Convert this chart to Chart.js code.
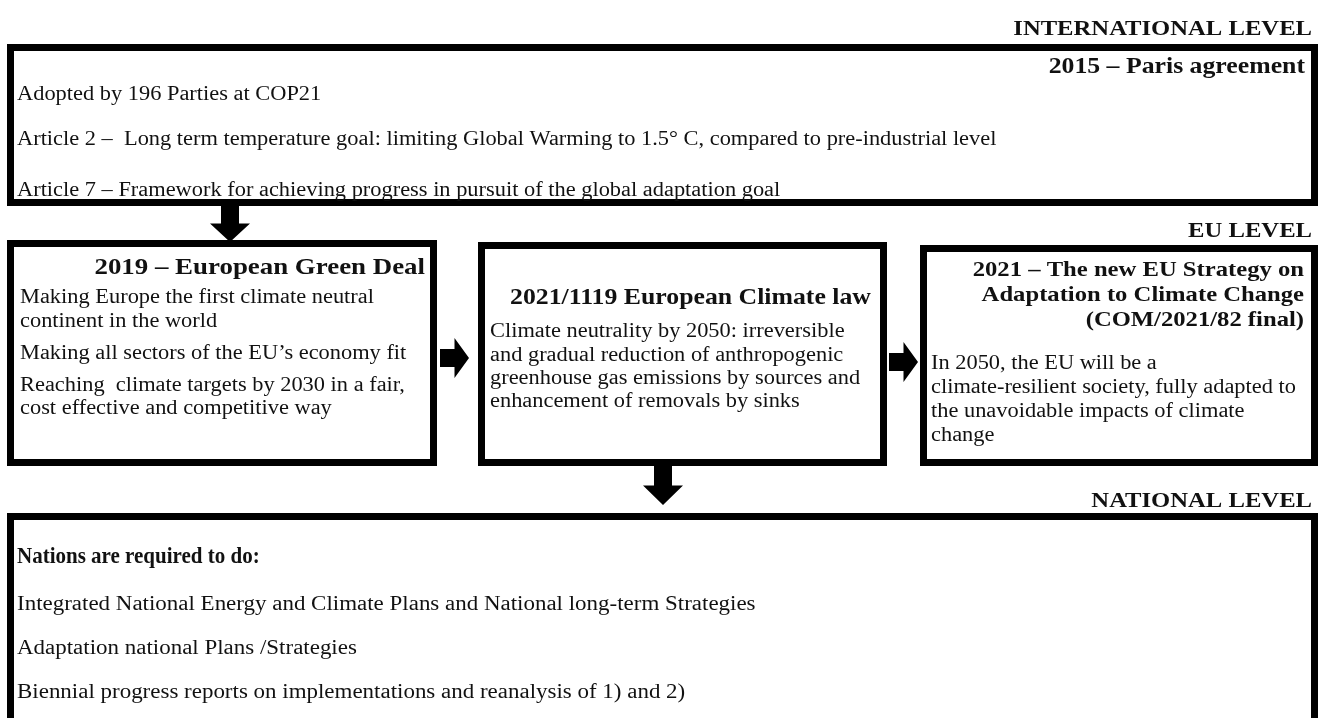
<!DOCTYPE html>
<html>
<head>
<meta charset="utf-8">
<script src="https://cdn.jsdelivr.net/npm/chart.js@4/dist/chart.umd.min.js"></script>
<style>
  html, body { margin: 0; padding: 0; background: #fff; }
  #wrap { width: 1323px; height: 718px; }
</style>
</head>
<body>
<div id="wrap"><canvas id="chart"></canvas></div>
<script>
// text content of the diagram
const levelLabels = ["INTERNATIONAL LEVEL", "EU LEVEL", "NATIONAL LEVEL"];
const parisTitle = ["2015 – Paris agreement"];
const parisItems = [
  "Adopted by 196 Parties at COP21",
  "Article 2 –  Long term temperature goal: limiting Global Warming to 1.5° C, compared to pre-industrial level",
  "Article 7 – Framework for achieving progress in pursuit of the global adaptation goal"
];
const greenDealTitle = ["2019 – European Green Deal"];
const greenDealItems = [
  "Making Europe the first climate neutral",
  "continent in the world",
  "Making all sectors of the EU’s economy fit",
  "Reaching  climate targets by 2030 in a fair,",
  "cost effective and competitive way"
];
const climateLawTitle = ["2021/1119 European Climate law"];
const climateLawItems = [
  "Climate neutrality by 2050: irreversible",
  "and gradual reduction of anthropogenic",
  "greenhouse gas emissions by sources and",
  "enhancement of removals by sinks"
];
const strategyTitle = [
  "2021 – The new EU Strategy on",
  "Adaptation to Climate Change",
  "(COM/2021/82 final)"
];
const strategyItems = [
  "In 2050, the EU will be a",
  "climate-resilient society, fully adapted to",
  "the unavoidable impacts of climate",
  "change"
];
const nationalTitle = ["Nations are required to do:"];
const nationalItems = [
  "Integrated National Energy and Climate Plans and National long-term Strategies",
  "Adaptation national Plans /Strategies",
  "Biennial progress reports on implementations and reanalysis of 1) and 2)"
];

// layout (page units, mapped through the chart scales)
const FONT = '"Liberation Serif", "DejaVu Serif", serif';
const STRETCH = 1.12;
const BORDER = 7;

const levelPos = [{x: 1312, y: 29}, {x: 1312, y: 231}, {x: 1312, y: 501}];

const boxes = [
  {x0: 7, y0: 44, x1: 1318, y1: 206,
   title: parisTitle, tAlign: 'right', tx: 1305, ty: [67], tSize: 23, tStretch: STRETCH,
   items: parisItems, ix: 17, iy: [95, 140, 191], iSize: 20},
  {x0: 7, y0: 240, x1: 437, y1: 466,
   title: greenDealTitle, tAlign: 'right', tx: 425, ty: [268], tSize: 24, tStretch: STRETCH,
   items: greenDealItems, ix: 20, iy: [298, 322, 354, 386, 409], iSize: 20},
  {x0: 478, y0: 242, x1: 887, y1: 466,
   title: climateLawTitle, tAlign: 'left', tx: 510, ty: [298], tSize: 23, tStretch: STRETCH,
   items: climateLawItems, ix: 490, iy: [332, 356, 379, 402], iSize: 20},
  {x0: 920, y0: 245, x1: 1318, y1: 466,
   title: strategyTitle, tAlign: 'right', tx: 1304, ty: [270, 295, 320], tSize: 22, tStretch: STRETCH,
   items: strategyItems, ix: 931, iy: [364, 388, 412, 436], iSize: 20},
  {x0: 7, y0: 513, x1: 1318, y1: 730,
   title: nationalTitle, tAlign: 'left', tx: 17, ty: [557], tSize: 24, tStretch: 0.875,
   items: nationalItems, ix: 17, iy: [605, 649, 693], iSize: 20.5}
];

// arrows: from (x0,y0) to (x1,y1)
const arrows = [
  {x0: 230, y0: 205, x1: 230, y1: 242},
  {x0: 440, y0: 358, x1: 469, y1: 358},
  {x0: 889, y0: 362, x1: 918, y1: 362},
  {x0: 663, y0: 466, x1: 663, y1: 505}
];

function drawText(chart, str, px, py, size, bold, align, stretch) {
  const {ctx} = chart;
  const xs = chart.scales.x, ys = chart.scales.y;
  const X = xs.getPixelForValue(px), Y = ys.getPixelForValue(py);
  ctx.save();
  ctx.font = (bold ? 'bold ' : '') + size + 'px ' + FONT;
  ctx.fillStyle = '#111';
  ctx.textBaseline = 'middle';
  ctx.textAlign = align;
  ctx.translate(X, Y);
  ctx.scale(stretch, 1);
  ctx.fillText(str, 0, 0);
  ctx.restore();
}

function drawArrow(chart, a) {
  const {ctx} = chart;
  const xs = chart.scales.x, ys = chart.scales.y;
  const X0 = xs.getPixelForValue(a.x0), Y0 = ys.getPixelForValue(a.y0);
  const X1 = xs.getPixelForValue(a.x1), Y1 = ys.getPixelForValue(a.y1);
  const len = Math.hypot(X1 - X0, Y1 - Y0);
  const ang = Math.atan2(Y1 - Y0, X1 - X0);
  const head = len * 0.5, sw = 9, hw = 20;
  ctx.save();
  ctx.translate(X0, Y0);
  ctx.rotate(ang);
  ctx.fillStyle = '#000';
  ctx.beginPath();
  ctx.moveTo(0, -sw);
  ctx.lineTo(len - head, -sw);
  ctx.lineTo(len - head, -hw);
  ctx.lineTo(len, 0);
  ctx.lineTo(len - head, hw);
  ctx.lineTo(len - head, sw);
  ctx.lineTo(0, sw);
  ctx.closePath();
  ctx.fill();
  ctx.restore();
}

const diagram = {
  id: 'diagram',
  afterDraw: (chart) => {
    const {ctx} = chart;
    const xs = chart.scales.x, ys = chart.scales.y;

    levelLabels.forEach((l, i) => {
      drawText(chart, l, levelPos[i].x, levelPos[i].y, 22, true, 'right', STRETCH);
    });

    boxes.forEach(b => {
      const X0 = xs.getPixelForValue(b.x0), Y0 = ys.getPixelForValue(b.y0);
      const X1 = xs.getPixelForValue(b.x1), Y1 = ys.getPixelForValue(b.y1);
      ctx.save();
      ctx.lineWidth = BORDER;
      ctx.strokeStyle = '#000';
      ctx.strokeRect(X0 + BORDER / 2, Y0 + BORDER / 2, X1 - X0 - BORDER, Y1 - Y0 - BORDER);
      ctx.restore();
      b.title.forEach((t, i) => drawText(chart, t, b.tx, b.ty[i], b.tSize, true, b.tAlign, b.tStretch));
      b.items.forEach((t, i) => drawText(chart, t, b.ix, b.iy[i], b.iSize, false, 'left', STRETCH));
    });

    arrows.forEach(a => drawArrow(chart, a));
  }
};

const config = {
  type: 'scatter',
  data: {datasets: [{label: 'diagram', data: [], pointRadius: 0}]},
  options: {
    responsive: true,
    maintainAspectRatio: false,
    animation: false,
    layout: {padding: 0},
    plugins: {legend: {display: false}, tooltip: {enabled: false}},
    scales: {
      x: {type: 'linear', min: 0, max: 1323, display: false},
      y: {type: 'linear', min: 0, max: 718, reverse: true, display: false}
    }
  },
  plugins: [diagram]
};

const $chart = document.getElementById('chart');
const chart = new Chart($chart, config);
</script>
</body>
</html>
